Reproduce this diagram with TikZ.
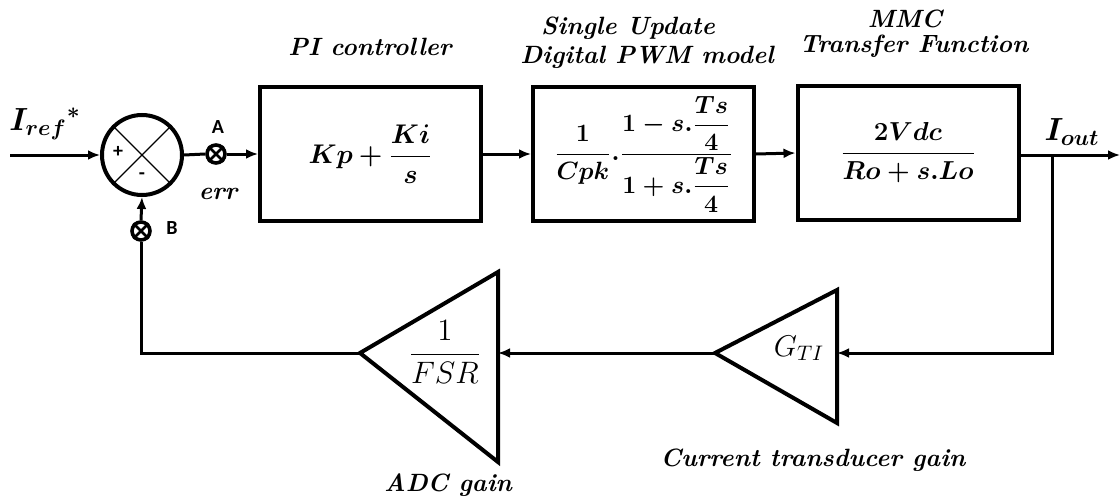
\RequirePackage{fix-cm}
\documentclass[tikz,border=0pt]{standalone}
\usepackage{amsmath}
\usepackage{bm}
\usepackage{fontspec}
\newfontfamily\sansb{Carlito}[BoldFont={Carlito Bold}]
\usetikzlibrary{arrows.meta}
\tikzset{
  blk/.style={draw, line width=2pt, minimum width=110.5pt, minimum height=67pt, inner sep=0pt},
  sumc/.style={draw, circle, line width=2pt, minimum size=40pt, inner sep=0pt},
  xmark/.style={draw, circle, line width=1.8pt, minimum size=9pt, inner sep=0pt},
  conn/.style={line width=1.5pt, -{Latex[length=6pt,width=5pt]}},
  wire/.style={line width=1.5pt},
  tri/.style={line width=2pt, line join=miter},
  captxt/.style={font=\fontsize{12.5}{14}\selectfont\bfseries\itshape},
  lab/.style={font=\fontsize{10}{11}\selectfont\sansb\bfseries},
  pm/.style={font=\fontsize{10}{11}\selectfont\sansb\bfseries},
}
\begin{document}
\begin{tikzpicture}[x=0.5pt,y=-0.5pt]
\useasboundingbox (0,0) rectangle (1120,498);
% summing junction
\node[sumc] (sum) at (142,155) {};
\draw[line width=0.7pt] (sum.north east) -- (sum.south west);
\draw[line width=0.7pt] (sum.north west) -- (sum.south east);
\node[pm] (plus) at (118,152) {+};
\node[pm] (minus) at (142,176) {-};
% input
\coordinate (inpt) at (10,155);
\node[font=\fontsize{16}{18}\selectfont] (iref) at (45,124) {$\bm{I_{ref}}{}^{\bm{*}}$};
\draw[conn] (inpt) -- (sum.west);
% marker A
\node[xmark] (mA) at (216,154) {};
\draw[line width=1.4pt] (mA.north east) -- (mA.south west) (mA.north west) -- (mA.south east);
\node[lab] (lA) at (218,127) {A};
\node[captxt] (err) at (218,194) {err};
% blocks
\node[blk] (pi) at (370.5,154) {\fontsize{13.5}{15}\selectfont$\bm{Kp+\dfrac{Ki}{s}}$};
\node[blk] (pwm) at (643.5,154) {\fontsize{12.5}{14}\selectfont$\bm{\dfrac{1}{Cpk}.\dfrac{1-s.\dfrac{Ts}{4}}{1+s.\dfrac{Ts}{4}}}$};
\node[blk] (mmc) at (908,153) {\fontsize{13}{15}\selectfont$\bm{\dfrac{2Vdc}{Ro+s.Lo}}$};
\node[captxt] (tpi) at (370,47) {PI controller};
\node[captxt] (tpwm1) at (628,28) {Single Update};
\node[captxt] (tpwm2) at (647,57) {Digital PWM model};
\node[captxt] (tmmc1) at (905,19) {MMC};
\node[captxt] (tmmc2) at (914,46) {Transfer Function};
% forward connectors
\draw[wire] (sum.east) -- (mA.west);
\draw[conn] (mA.east) -- (pi.west);
\draw[conn] (pi.east) -- (pwm.west);
\draw[conn] (pwm.east) -- (mmc.west);
\coordinate (outp) at (1120,155);
\coordinate (br) at (1052,155);
\draw[conn] (mmc.east |- outp) -- (outp);
\node[font=\fontsize{16}{18}\selectfont] (iout) at (1072,132) {$\bm{I_{out}}$};
% triangles
\coordinate (gR) at (837,353);
\coordinate (gA) at (715,353);
\draw[tri] (gA) -- (837,290) -- (837,423) -- cycle;
\node[font=\fontsize{15}{17}\selectfont] (gti) at (799,348) {$G_{TI}$};
\node[captxt] (tg) at (813,460) {Current transducer gain};
\coordinate (aR) at (498,353);
\coordinate (aA) at (360,353);
\draw[tri] (aA) -- (498,272) -- (498,462) -- cycle;
\node[font=\fontsize{15.5}{17}\selectfont] (fsr) at (445,352) {$\dfrac{1}{FSR}$};
\node[captxt] (ta) at (448,485) {ADC gain};
% feedback
\coordinate (fb1) at (1052,353);
\coordinate (fb2) at (141,353);
\draw[conn] (br) -- (fb1) -- (gR);
\draw[conn] (gA) -- (aR);
\node[xmark] (mB) at (141,231) {};
\draw[line width=1.4pt] (mB.north east) -- (mB.south west) (mB.north west) -- (mB.south east);
\node[lab] (lB) at (172,228) {B};
\draw[wire] (aA) -- (fb2) -- (mB.south);
\draw[conn] (mB.north) -- (sum.south);
\end{tikzpicture}
\end{document}
